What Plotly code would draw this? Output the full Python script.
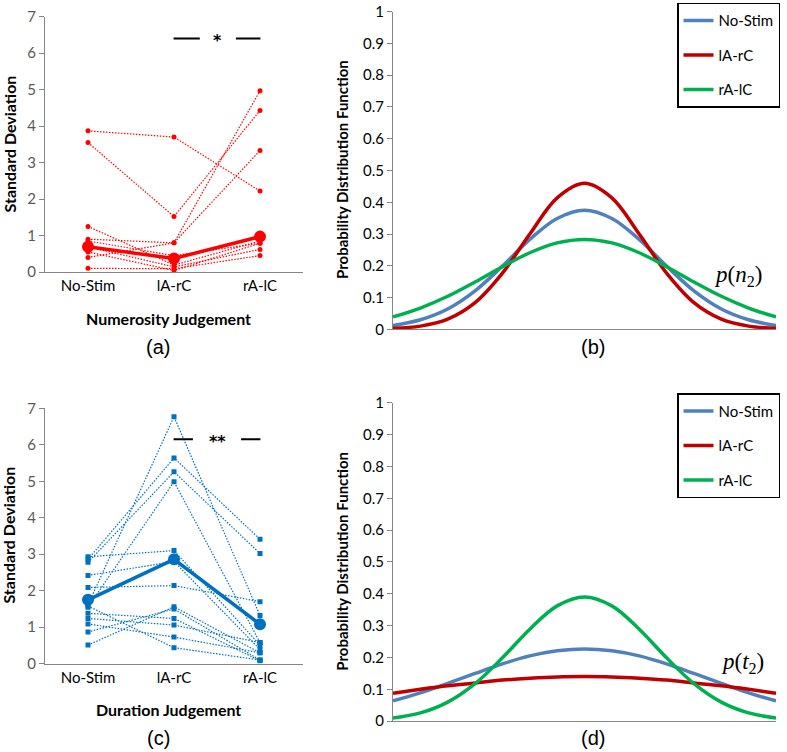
import plotly.graph_objects as go

W, H = 787, 752

# ---------------- data ----------------
cats = ["No-Stim", "lA-rC", "rA-lC"]

# panel (a): numerosity judgement, individual SDs
num_subjects = [
    [3.87, 3.70, 2.22],
    [3.55, 1.52, 4.43],
    [0.40, 0.80, 4.97],
    [0.90, 0.80, 3.33],
    [1.25, 0.19, 0.85],
    [0.85, 0.45, 0.79],
    [0.69, 0.14, 0.62],
    [0.10, 0.09, 0.45],
    [0.55, 0.04, 0.79],
]
num_mean = [0.69, 0.37, 0.97]

# panel (c): duration judgement, individual SDs
dur_subjects = [
    [2.86, 5.64, 3.41],
    [2.78, 5.26, 3.02],
    [1.62, 6.77, 1.32],
    [1.55, 4.99, 0.58],
    [2.93, 3.10, 0.51],
    [2.42, 2.80, 0.39],
    [2.09, 2.14, 1.70],
    [0.51, 1.56, 0.30],
    [0.87, 1.50, 0.10],
    [1.38, 1.24, 0.08],
    [1.24, 1.06, 0.58],
    [1.09, 0.73, 0.30],
    [1.58, 0.44, 0.10],
]
dur_mean = [1.75, 2.86, 1.08]

# panels (b), (d): probability distribution functions
pdf_x = [-2.8, -2.4, -2.0, -1.6, -1.2, -0.8, -0.4, 0.0, 0.4, 0.8, 1.2, 1.6, 2.0, 2.4, 2.8]
pdf_names = ["No-Stim", "lA-rC", "rA-lC"]
pdf_n_nostim = [0.012, 0.030, 0.064, 0.121, 0.199, 0.283, 0.349, 0.375, 0.349, 0.283, 0.199, 0.121, 0.064, 0.030, 0.012]
pdf_n_larc = [0.003, 0.010, 0.032, 0.084, 0.177, 0.300, 0.414, 0.460, 0.414, 0.300, 0.177, 0.084, 0.032, 0.010, 0.003]
pdf_n_ralc = [0.039, 0.067, 0.104, 0.149, 0.197, 0.241, 0.272, 0.283, 0.272, 0.241, 0.197, 0.149, 0.104, 0.067, 0.039]
pdf_t_nostim = [0.064, 0.089, 0.119, 0.150, 0.180, 0.205, 0.221, 0.227, 0.221, 0.205, 0.180, 0.150, 0.119, 0.089, 0.064]
pdf_t_larc = [0.088, 0.100, 0.111, 0.120, 0.129, 0.135, 0.139, 0.140, 0.139, 0.135, 0.129, 0.120, 0.111, 0.100, 0.088]
pdf_t_ralc = [0.010, 0.026, 0.060, 0.118, 0.199, 0.289, 0.362, 0.390, 0.362, 0.289, 0.199, 0.118, 0.060, 0.026, 0.010]

# ---------------- styles ----------------
RED = "#FF0000"
BLUE = "#0070C0"
C_NOSTIM = "#4F81BD"
C_LARC = "#C00000"
C_RALC = "#00B050"
AXIS_GRAY = "#868686"
FONT = "Lato"
DOTS = "1.5px,1.5px"

def px_x(p):
    return p / W

def px_y(p):
    return 1 - p / H

fig = go.Figure()

# ---------- panel (a) ----------
for s in num_subjects:
    fig.add_trace(go.Scatter(
        x=cats, y=s, mode="lines+markers", xaxis="x", yaxis="y",
        line=dict(color=RED, width=1.2, dash=DOTS),
        marker=dict(color=RED, size=5), showlegend=False, hoverinfo="skip"))
fig.add_trace(go.Scatter(
    x=cats, y=num_mean, mode="lines+markers", xaxis="x", yaxis="y",
    line=dict(color=RED, width=3.5), marker=dict(color=RED, size=12),
    showlegend=False))

# ---------- panel (c) ----------
for s in dur_subjects:
    fig.add_trace(go.Scatter(
        x=cats, y=s, mode="lines+markers", xaxis="x3", yaxis="y3",
        line=dict(color=BLUE, width=1.2, dash=DOTS),
        marker=dict(color=BLUE, size=5, symbol="square"), showlegend=False, hoverinfo="skip"))
fig.add_trace(go.Scatter(
    x=cats, y=dur_mean, mode="lines+markers", xaxis="x3", yaxis="y3",
    line=dict(color=BLUE, width=3.5), marker=dict(color=BLUE, size=12),
    showlegend=False))

# ---------- panel (b) ----------
for name, ys, col in zip(pdf_names, [pdf_n_nostim, pdf_n_larc, pdf_n_ralc], [C_NOSTIM, C_LARC, C_RALC]):
    fig.add_trace(go.Scatter(
        x=pdf_x, y=ys, mode="lines", name=name, xaxis="x2", yaxis="y2",
        line=dict(color=col, width=3.5, shape="spline"), legend="legend",
        legendgroup="b" + name))

# ---------- panel (d) ----------
for name, ys, col in zip(pdf_names, [pdf_t_nostim, pdf_t_larc, pdf_t_ralc], [C_NOSTIM, C_LARC, C_RALC]):
    fig.add_trace(go.Scatter(
        x=pdf_x, y=ys, mode="lines", name=name, xaxis="x4", yaxis="y4",
        line=dict(color=col, width=3.5, shape="spline"), legend="legend2",
        legendgroup="d" + name))

# ---------------- axes ----------------
cat_x = dict(
    type="category", range=[-0.5, 2.5], showline=True, linecolor=AXIS_GRAY, linewidth=1,
    ticks="", showgrid=False, zeroline=False,
    tickfont=dict(family=FONT, size=15, color="#000000"), fixedrange=True)
sd_y = dict(
    range=[0, 7], dtick=1, showline=True, linecolor=AXIS_GRAY, linewidth=1,
    ticks="outside", ticklen=5, tickcolor=AXIS_GRAY, showgrid=False, zeroline=False,
    tickfont=dict(family=FONT, size=15, color="#595959"), fixedrange=True)
pdf_xax = dict(
    range=[-2.8, 2.8], showline=True, linecolor=AXIS_GRAY, linewidth=1,
    showticklabels=False, ticks="", showgrid=False, zeroline=False, fixedrange=True)
pdf_yax = dict(
    range=[0, 1], dtick=0.1, showline=True, linecolor=AXIS_GRAY, linewidth=1,
    ticks="outside", ticklen=5, tickcolor=AXIS_GRAY, showgrid=False, zeroline=False,
    tickfont=dict(family=FONT, size=15, color="#000000"), fixedrange=True)

left_dom = [px_x(45), px_x(303)]
right_dom = [px_x(393), px_x(776)]

legend_common = dict(
    xanchor="left", yanchor="top",
    bordercolor="#000000", borderwidth=1.5, bgcolor="white",
    font=dict(family=FONT, size=15, color="#000000"),
    tracegroupgap=12, itemwidth=30)

fig.update_layout(
    width=W, height=H,
    margin=dict(l=0, r=0, t=0, b=0, autoexpand=False),
    paper_bgcolor="white", plot_bgcolor="white",
    font=dict(family=FONT, color="#000000"),
    xaxis=dict(cat_x, domain=left_dom, anchor="y"),
    yaxis=dict(sd_y, domain=[px_y(272), px_y(16.7)], anchor="x"),
    xaxis3=dict(cat_x, domain=left_dom, anchor="y3"),
    yaxis3=dict(sd_y, domain=[px_y(663.7), px_y(408.3)], anchor="x3"),
    xaxis2=dict(pdf_xax, domain=right_dom, anchor="y2"),
    yaxis2=dict(pdf_yax, domain=[px_y(329.3), px_y(11.7)], anchor="x2"),
    xaxis4=dict(pdf_xax, domain=right_dom, anchor="y4"),
    yaxis4=dict(pdf_yax, domain=[px_y(721.2), px_y(402.7)], anchor="x4"),
    legend=dict(legend_common, x=px_x(677), y=px_y(2.7)),
    legend2=dict(legend_common, x=px_x(677), y=px_y(393.3)),
)

# significance bars
fig.add_shape(type="line", xref="x", yref="y", x0=0.995, x1=1.3, y0=6.4, y1=6.4,
              line=dict(color="#000000", width=2))
fig.add_shape(type="line", xref="x", yref="y", x0=1.72, x1=2.005, y0=6.4, y1=6.4,
              line=dict(color="#000000", width=2))
fig.add_shape(type="line", xref="x3", yref="y3", x0=0.995, x1=1.22, y0=6.15, y1=6.15,
              line=dict(color="#000000", width=2))
fig.add_shape(type="line", xref="x3", yref="y3", x0=1.78, x1=2.005, y0=6.15, y1=6.15,
              line=dict(color="#000000", width=2))

ann = []
ann.append(dict(text="<b>*</b>", xref="x", yref="y", x=1.51, y=6.4,
                font=dict(family="DejaVu Sans", size=16, color="#000000"), yshift=-2))
ann.append(dict(text="<b>**</b>", xref="x3", yref="y3", x=1.5, y=6.15,
                font=dict(family="DejaVu Sans", size=16, color="#000000"), yshift=-2))

# axis titles
ann.append(dict(text="<b>Standard Deviation</b>", xref="paper", yref="paper",
                x=px_x(9), y=px_y(144.5), textangle=-90,
                font=dict(family=FONT, size=16, color="#000000")))
ann.append(dict(text="<b>Standard Deviation</b>", xref="paper", yref="paper",
                x=px_x(9), y=px_y(535.6), textangle=-90,
                font=dict(family=FONT, size=16, color="#000000")))
ann.append(dict(text="<b>Numerosity Judgement</b>", xref="paper", yref="paper",
                x=px_x(168), y=px_y(318),
                font=dict(family=FONT, size=16, color="#000000")))
ann.append(dict(text="<b>Duration Judgement</b>", xref="paper", yref="paper",
                x=px_x(168), y=px_y(709),
                font=dict(family=FONT, size=16, color="#000000")))
ann.append(dict(text="<b>Probability Distribution Function</b>", xref="paper", yref="paper",
                x=px_x(342), y=px_y(170), textangle=-90,
                font=dict(family=FONT, size=15, color="#000000")))
ann.append(dict(text="<b>Probability Distribution Function</b>", xref="paper", yref="paper",
                x=px_x(342), y=px_y(561.7), textangle=-90,
                font=dict(family=FONT, size=15, color="#000000")))

# math labels
ann.append(dict(text="<i>p</i>(<i>n</i><sub>2</sub>)", xref="paper", yref="paper",
                x=px_x(738), y=px_y(276),
                font=dict(family="Liberation Serif", size=23, color="#000000")))
ann.append(dict(text="<i>p</i>(<i>t</i><sub>2</sub>)", xref="paper", yref="paper",
                x=px_x(742), y=px_y(663),
                font=dict(family="Liberation Serif", size=23, color="#000000")))

# panel letters
for lbl, xx, yy in [("(a)", 158, 347), ("(b)", 593, 347), ("(c)", 158, 738), ("(d)", 593, 738)]:
    ann.append(dict(text=lbl, xref="paper", yref="paper", x=px_x(xx), y=px_y(yy),
                    font=dict(family="Liberation Sans", size=20, color="#000000")))

for a in ann:
    a.update(showarrow=False, xanchor="center", yanchor="middle")

fig.update_layout(annotations=ann)

fig.write_html("out.html", config={"displayModeBar": False},
               post_script="document.body.style.margin='0px';")
